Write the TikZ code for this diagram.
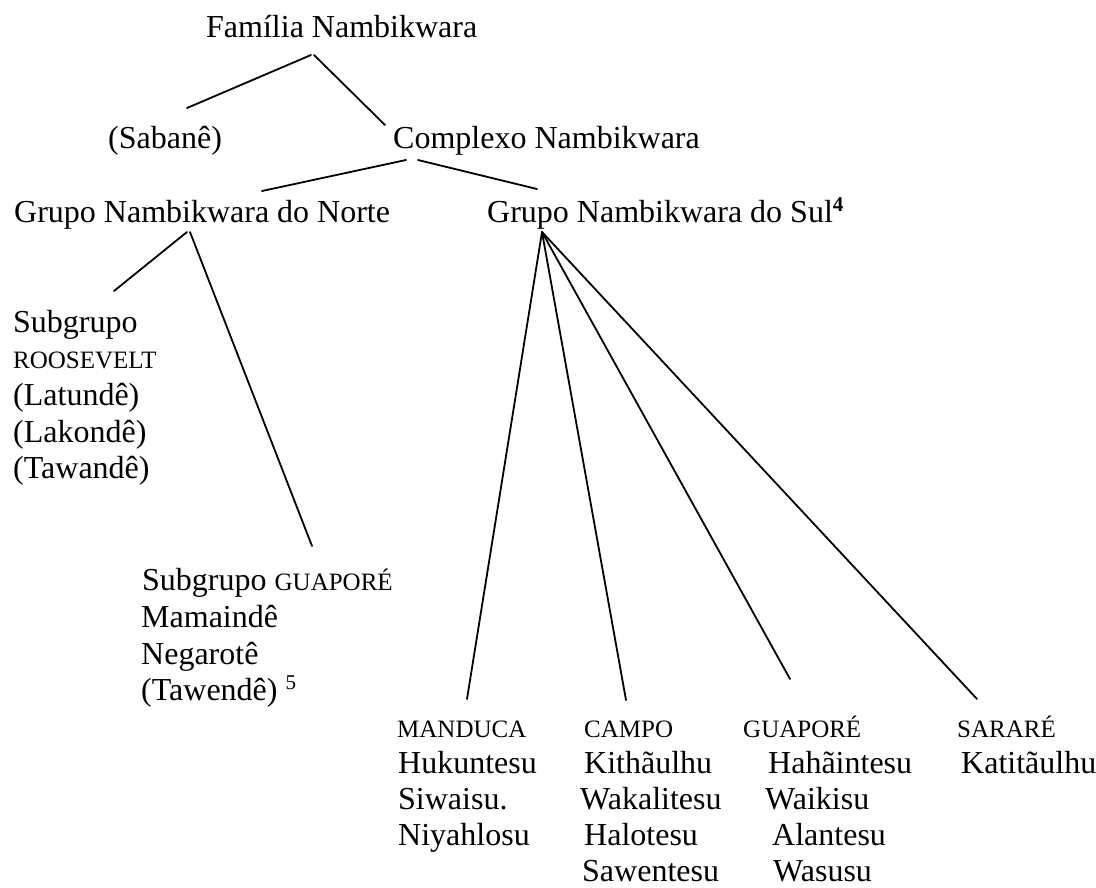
\documentclass[tikz,border=0pt]{standalone}
\usepackage{fontspec}
\setmainfont{Liberation Serif}
\newcommand{\smcap}[1]{{\fontsize{25}{30}\selectfont #1}}
\begin{document}
\begin{tikzpicture}[x=1pt,y=-1pt,
  txt/.style={anchor=base west,inner sep=0pt,font=\fontsize{32}{36}\selectfont},
  sc/.style={anchor=base west,inner sep=0pt,font=\fontsize{25}{30}\selectfont},
  link/.style={line width=1.8pt,line cap=round}]
\useasboundingbox (0,0) rectangle (1096,887);
% top levels
\node[txt] (fam) at (206,37) {Família Nambikwara};
\node[txt] (sab) at (108,148) {(Sabanê)};
\node[txt] (com) at (393,148) {Complexo Nambikwara};
\node[txt] (gnn) at (14,222) {Grupo Nambikwara do Norte};
\node[txt] (gns) at (487,222) {Grupo Nambikwara do Sul\raisebox{0.33em}{\fontsize{21}{21}\selectfont\bfseries 4}};
% Roosevelt subgroup
\node[txt] (r0) at (13,332) {Subgrupo};
\node[sc]  (r1) at (13,368) {ROOSEVELT};
\node[txt] (r2) at (13,405) {(Latundê)};
\node[txt] (r3) at (13,442) {(Lakondê)};
\node[txt] (r4) at (13,478) {(Tawandê)};
% Guapore subgroup
\node[txt] (g0) at (142,590) {Subgrupo \smcap{GUAPORÉ}};
\node[txt] (g1) at (141,627) {Mamaindê};
\node[txt] (g2) at (141,664) {Negarotê};
\node[txt] (g3) at (141,700) {(Tawendê) \raisebox{0.33em}{\fontsize{21}{21}\selectfont 5}};
% bottom columns
\node[sc]  (m0) at (397,737) {MANDUCA};
\node[txt] (m1) at (398,773) {Hukuntesu};
\node[txt] (m2) at (398,809) {Siwaisu.};
\node[txt] (m3) at (398,845) {Niyahlosu};
\node[sc]  (c0) at (584,737) {CAMPO};
\node[txt] (c1) at (584,773) {Kithãulhu};
\node[txt] (c2) at (580,809) {Wakalitesu};
\node[txt] (c3) at (584,845) {Halotesu};
\node[txt] (c4) at (582,881) {Sawentesu};
\node[sc]  (u0) at (743,737) {GUAPORÉ};
\node[txt] (u1) at (768,773) {Hahãintesu};
\node[txt] (u2) at (765,809) {Waikisu};
\node[txt] (u3) at (772,845) {Alantesu};
\node[txt] (u4) at (773,881) {Wasusu};
\node[sc]  (s0) at (957,737) {SARARÉ};
\node[txt] (s1) at (961,773) {Katitãulhu};
% connector end points
\coordinate (famL) at (311,55);
\coordinate (famR) at (314,55);
\coordinate (sabT) at (187,108);
\coordinate (comT) at (385,125);
\coordinate (comL) at (406,160);
\coordinate (comR) at (418,160);
\coordinate (gnnT) at (262,191);
\coordinate (gnsT) at (537,189);
\coordinate (gnnL) at (187,232);
\coordinate (gnnR) at (190,232);
\coordinate (rT) at (114,291);
\coordinate (gT) at (312,546);
\coordinate (gnsB) at (542,232);
\coordinate (mT) at (467,699);
\coordinate (cT) at (626,700);
\coordinate (uT) at (790,679);
\coordinate (sT) at (977,699);
% connectors
\draw[link] (famL) -- (sabT);
\draw[link] (famR) -- (comT);
\draw[link] (comL) -- (gnnT);
\draw[link] (comR) -- (gnsT);
\draw[link] (gnnL) -- (rT);
\draw[link] (gnnR) -- (gT);
\draw[link] (gnsB) -- (mT);
\draw[link] (gnsB) -- (cT);
\draw[link] (gnsB) -- (uT);
\draw[link] (gnsB) -- (sT);
\end{tikzpicture}
\end{document}
